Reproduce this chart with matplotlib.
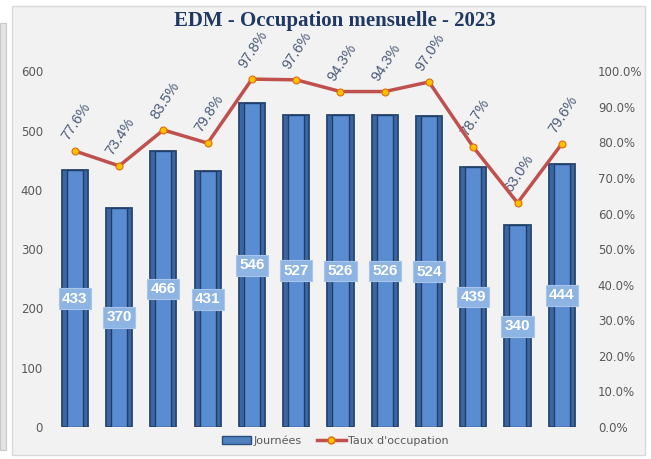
import numpy as np
import matplotlib
matplotlib.use('Agg')
import matplotlib.pyplot as plt
from matplotlib.patches import Rectangle
from matplotlib.lines import Line2D
from matplotlib.ticker import FuncFormatter

# Data
months = np.arange(12)
journees = [433, 370, 466, 431, 546, 527, 526, 526, 524, 439, 340, 444]
taux = [77.6, 73.4, 83.5, 79.8, 97.8, 97.6, 94.3, 94.3, 97.0, 78.7, 63.0, 79.6]

fig = plt.figure(figsize=(6.51, 4.59), dpi=100)
fig.patch.set_facecolor('white')

# left strip + chart frame (behind the axes)
fig.patches.append(Rectangle((0, 0.02), 0.009, 0.93, transform=fig.transFigure,
                             facecolor='#e4e4e4', edgecolor='#c8c8c8', lw=0.8, zorder=-10))
fig.patches.append(Rectangle((0.019, 0.008), 0.972, 0.98, transform=fig.transFigure,
                             facecolor='#f2f2f2', edgecolor='#d9d9d9', lw=1.0, zorder=-10))

ax = fig.add_axes([0.081, 0.0697, 0.816, 0.775])
ax.set_facecolor('none')

w = 0.59
ax.bar(months, journees, width=w, color='#3a67a3', edgecolor='#27466f', linewidth=1.3, zorder=2)
ax.bar(months, journees, width=w * 0.62, color='#5a8cd1', edgecolor='#213e66', linewidth=1.0, zorder=3)

for x, v in zip(months, journees):
    ax.text(x, v / 2, str(v), ha='center', va='center', color='white', fontsize=11,
            fontweight='bold', family='Liberation Sans', zorder=6,
            bbox=dict(boxstyle='square,pad=0.22', facecolor='#8db4e2', edgecolor='#a9c6ea', lw=0.8))

ax.set_xlim(-0.5, 11.5)
ax.set_ylim(0, 600)
ax.set_yticks(range(0, 601, 100))
ax.set_xticks([])
for s in ax.spines.values():
    s.set_visible(False)
ax.tick_params(axis='y', length=0, labelsize=8.5, labelcolor='#595959', pad=7)

ax2 = ax.twinx()
ax2.plot(months, taux, color='#c0504d', lw=2.5, zorder=4,
         marker='o', markersize=5, markerfacecolor='#ffc000', markeredgecolor='#e46c0a', markeredgewidth=0.8)
for x, t in zip(months, taux):
    ax2.annotate(f'{t:.1f}%', (x, t), textcoords='offset points', xytext=(1, 21),
                 ha='center', va='center', rotation=57, fontsize=10.5, color='#4a5a78',
                 family='Liberation Sans')
ax2.set_ylim(0, 100)
ax2.set_yticks(range(0, 101, 10))
ax2.yaxis.set_major_formatter(FuncFormatter(lambda v, p: f'{v:.1f}%'))
ax2.tick_params(axis='y', length=0, labelsize=8.5, labelcolor='#595959', pad=10)
for s in ax2.spines.values():
    s.set_visible(False)

fig.text(0.515, 0.955, 'EDM - Occupation mensuelle - 2023', ha='center', va='center',
         fontsize=15, fontweight='bold', color='#1f3864', family='Liberation Serif')

handles = [Rectangle((0, 0), 1, 1, facecolor='#4f81bd', edgecolor='#2b4e80'),
           Line2D([], [], color='#c0504d', lw=2.5, marker='o', markersize=5,
                  markerfacecolor='#ffc000', markeredgecolor='#e46c0a')]
fig.legend(handles, ['Journées', "Taux d'occupation"], loc='center', bbox_to_anchor=(0.515, 0.04),
           ncol=2, frameon=False, fontsize=8, labelcolor='#595959', handlelength=2.6,
           handletextpad=0.2, columnspacing=1.4)

fig.savefig('out.png', dpi=100)
